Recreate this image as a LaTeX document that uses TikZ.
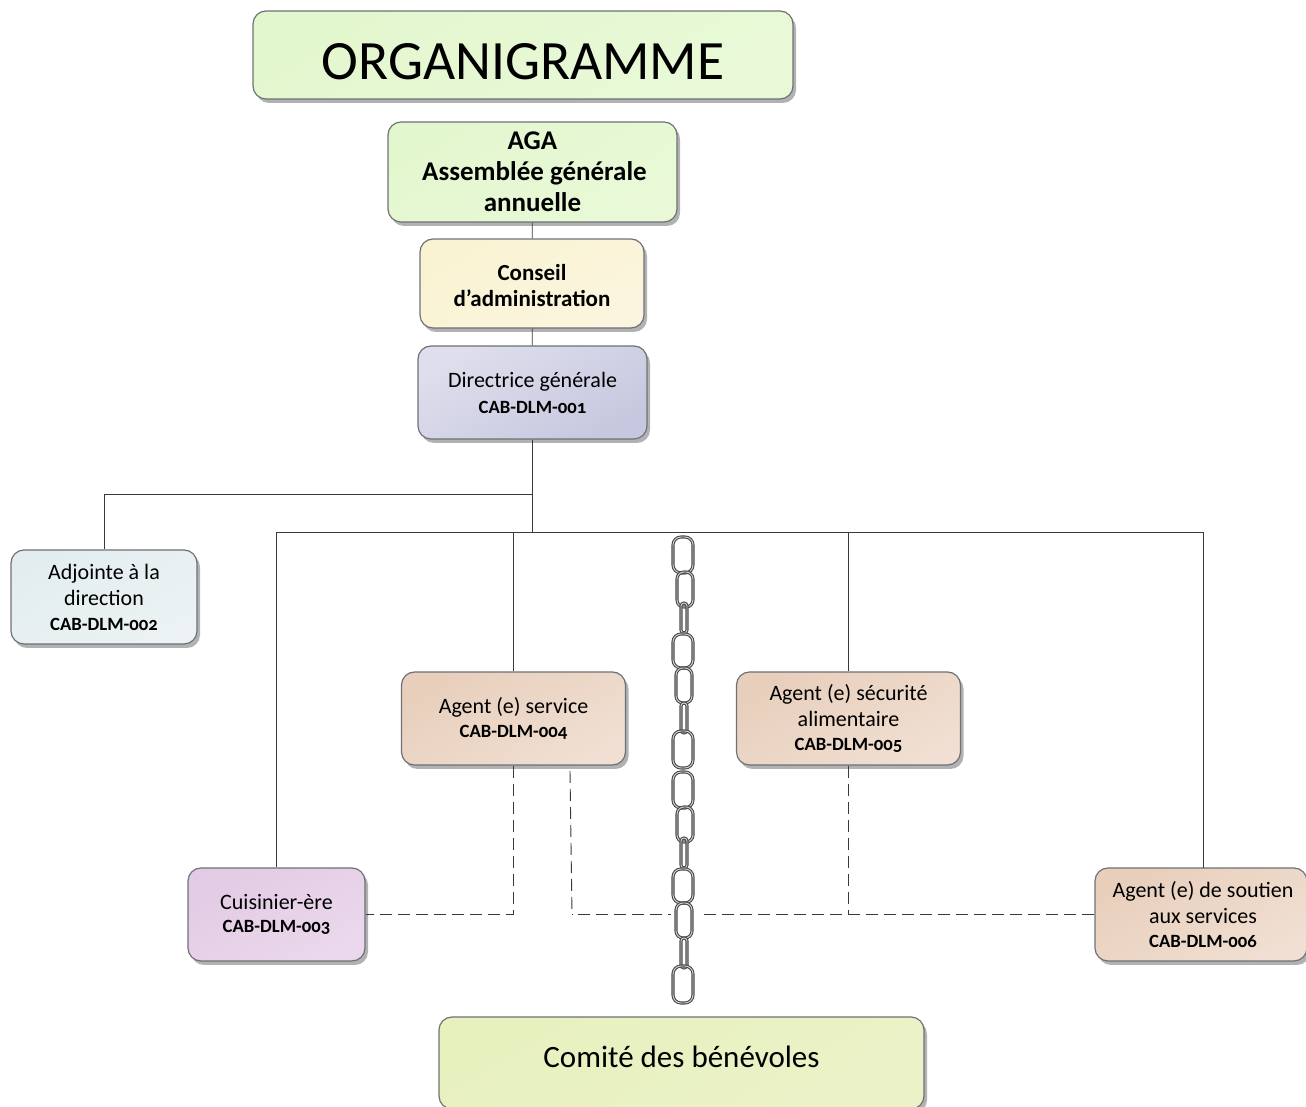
\documentclass[tikz,border=0pt]{standalone}
\usepackage{fontspec}
\setmainfont[Numbers=OldStyle]{Carlito}
\usetikzlibrary{shadows}

\definecolor{boxline}{HTML}{6E7276}
\definecolor{wireline}{HTML}{3A3A3A}
\definecolor{vertA}{HTML}{E3F7CE}
\definecolor{vertB}{HTML}{E9F9D8}
\definecolor{jauneA}{HTML}{FAF3D2}
\definecolor{jauneB}{HTML}{FBF5DF}
\definecolor{bleuA}{HTML}{DEDEEC}
\definecolor{bleuB}{HTML}{C6C8DF}
\definecolor{grisA}{HTML}{E3EDEF}
\definecolor{grisB}{HTML}{ECF2F4}
\definecolor{brunA}{HTML}{E8CFBC}
\definecolor{brunB}{HTML}{F0DFD2}
\definecolor{mauveA}{HTML}{E2CBE4}
\definecolor{mauveB}{HTML}{EBD8EC}
\definecolor{oliveA}{HTML}{E7F1BE}
\definecolor{oliveB}{HTML}{EBF2C8}

\tikzset{
	box/.style={draw=boxline,line width=1.2bp,rounded corners=13bp,align=center,
		text=black,font=\fontsize{22bp}{26bp}\selectfont,inner sep=0pt,
		drop shadow={shadow xshift=3bp,shadow yshift=-4bp,fill=black,opacity=.3}},
	boxfill/.style 2 args={top color=#1,bottom color=#2,shading angle=30},
	wire/.style={draw=wireline,line width=.9bp},
	dashwire/.style={wire,dash pattern=on 12bp off 6bp},
	linkring/.style={draw=gray!60!black,double=gray!35,double distance=.9bp,line width=1.1bp,rounded corners=7.5bp}
}
\newcommand{\poste}[1]{{\fontsize{18.7bp}{20bp}\selectfont\bfseries #1}}

\begin{document}
\begin{tikzpicture}
	\useasboundingbox (0bp,0bp) rectangle (1306bp,1107bp);

	\node[box,boxfill={vertA}{vertB},minimum width=540bp,minimum height=88bp,font=\fontsize{55.5bp}{60bp}\selectfont] (titre) at (523.0bp,1052.0bp) {\raisebox{-25bp}[0pt][0pt]{ORGANIGRAMME}};
	\node[box,boxfill={vertA}{vertB},minimum width=289bp,minimum height=100bp,font=\fontsize{27bp}{31bp}\selectfont\bfseries] (aga) at (532.5bp,935.0bp) {AGA\\\hspace*{4bp}Assemblée générale\\annuelle};
	\node[box,boxfill={jauneA}{jauneB},minimum width=224bp,minimum height=89bp,font=\fontsize{23bp}{26bp}\selectfont\bfseries] (conseil) at (532.0bp,823.5bp) {\rule{0pt}{20bp}Conseil\\d’administration};
	\node[box,boxfill={bleuA}{bleuB},minimum width=229bp,minimum height=93bp] (dg) at (532.5bp,714.5bp) {Directrice générale\\\poste{CAB-DLM-001}};
	\node[box,boxfill={grisA}{grisB},minimum width=186bp,minimum height=94bp] (adjointe) at (104.0bp,510.0bp) {Adjointe à la\\direction\\[-1bp]\poste{CAB-DLM-002}};
	\node[box,boxfill={brunA}{brunB},minimum width=224bp,minimum height=93bp] (service) at (513.5bp,388.5bp) {Agent (e) service\\[-2bp]\poste{CAB-DLM-004}};
	\node[box,boxfill={brunA}{brunB},minimum width=224bp,minimum height=93bp] (securite) at (848.5bp,388.5bp) {Agent (e) sécurité\\alimentaire\\[-2bp]\poste{CAB-DLM-005}};
	\node[box,boxfill={mauveA}{mauveB},minimum width=177bp,minimum height=93bp] (cuisinier) at (276.5bp,192.5bp) {Cuisinier-ère\\[-3bp]\poste{CAB-DLM-003}};
	\node[box,boxfill={brunA}{brunB},minimum width=212bp,minimum height=93bp] (soutien) at (1201.0bp,192.5bp) {\hspace*{4bp}Agent (e) de soutien\\\hspace*{4bp}aux services\\[-2bp]\hspace*{4bp}\poste{CAB-DLM-006}};
	\node[box,boxfill={oliveA}{oliveB},minimum width=485bp,minimum height=92bp,font=\fontsize{31bp}{34bp}\selectfont] (comite) at (681.5bp,44.0bp) {\raisebox{-5bp}[0pt][0pt]{Comité des bénévoles}};

	\coordinate (branche) at (532.5bp,613.0bp);
	\coordinate (bus) at (532.5bp,575.0bp);
	\coordinate (soutienh) at (1203.0bp,239.0bp);
	\coordinate (serviceb) at (570.0bp,336.0bp);
	\coordinate (coude) at (572.0bp,192.5bp);
	\coordinate (jonction) at (848.5bp,192.5bp);

	\draw[wire] (aga) -- (conseil);
	\draw[wire] (conseil) -- (dg);
	\draw[wire] (dg) -- (bus);
	\draw[wire] (branche) -| (adjointe);
	\draw[wire] (bus) -| (cuisinier);
	\draw[wire] (bus) -| (service);
	\draw[wire] (bus) -| (securite);
	\draw[wire] (bus) -| (soutienh);

	\draw[dashwire] (service) |- (cuisinier);
	\draw[dashwire] (serviceb) -- (coude);
	\draw[dashwire] (soutien) -- (coude);
	\draw[dashwire] (securite) -- (jonction);

	% chaine
	\fill[white] (671bp,104bp) rectangle (698bp,334bp);
	\foreach \decal in {0,-235}
		\foreach \haut/\bas/\gauche/\droite/\rayon in {570/534/673/693/8,535/500/677/693/7,504/474/681/687/3,473/439/673/693/8,439/404/676/692/7,404/374/681/687/3,376/339/673/693/8}
			\draw[linkring,rounded corners=\rayon bp,shift={(0bp,\decal bp)}] (\gauche bp,\haut bp) rectangle (\droite bp,\bas bp);

\end{tikzpicture}
\end{document}
